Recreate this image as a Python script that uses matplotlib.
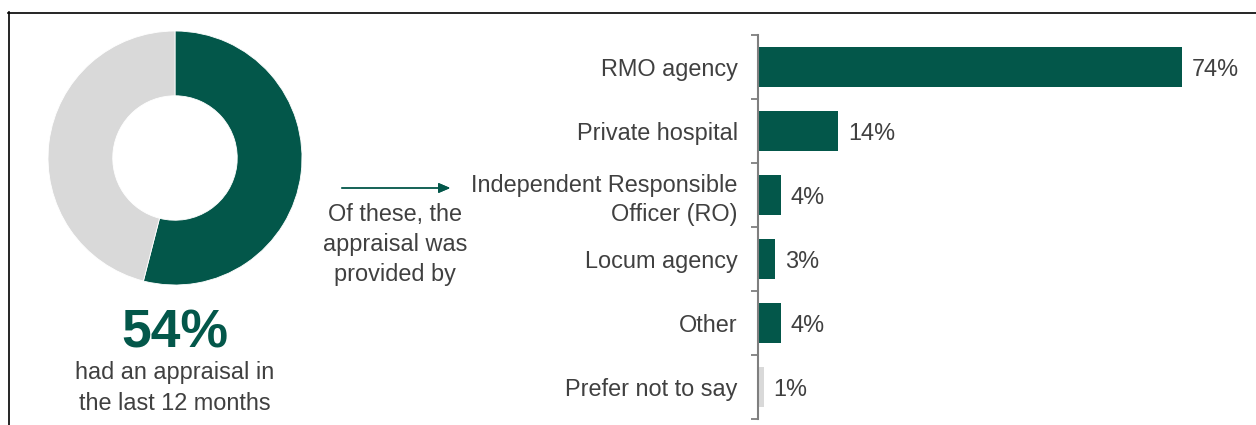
import matplotlib
matplotlib.use("Agg")
import matplotlib.pyplot as plt
from matplotlib.lines import Line2D

plt.rcParams["font.family"] = ["Liberation Sans", "DejaVu Sans"]

# data
categories = ["RMO agency", "Private hospital", "Independent Responsible\nOfficer (RO)",
              "Locum agency", "Other", "Prefer not to say"]
shares = [74, 14, 4, 3, 4, 1]
bar_colors = ["#03574a", "#03574a", "#03574a", "#03574a", "#03574a", "#d9d9d9"]
appraisal = [54, 46]
appraisal_colors = ["#03574a", "#d9d9d9"]

GREEN = "#03574a"
TEXT = "#404040"
FS = 16.9
W, H = 1256, 425


def px_box(left, top, right, bottom):
    # pixel box (top-left origin) -> figure fraction
    return [left / W, 1 - bottom / H, (right - left) / W, (bottom - top) / H]


fig = plt.figure(figsize=(W / 100, H / 100), dpi=100)

# outer frame (left and top edges visible)
fig.add_artist(Line2D([8.5 / W, 8.5 / W], [0, 1 - 12 / H], color="black", lw=1.2,
                      transform=fig.transFigure))
fig.add_artist(Line2D([8 / W, 1], [1 - 12.5 / H, 1 - 12.5 / H], color="black", lw=1.2,
                      transform=fig.transFigure))

# donut
ax_d = fig.add_axes(px_box(45, 28, 305, 288))
ax_d.pie(appraisal, colors=appraisal_colors, startangle=90, counterclock=False,
         radius=1, wedgeprops=dict(width=0.51, edgecolor="white", linewidth=0.6))
ax_d.set_xlim(-130 / 127, 130 / 127)
ax_d.set_ylim(-130 / 127, 130 / 127)
ax_d.set_aspect("equal")
ax_d.axis("off")

fig.text(175 / W, 1 - 334 / H, f"{appraisal[0]}%", ha="center", va="center",
         fontsize=38.5, fontweight="bold", color=GREEN)
fig.text(175 / W, 1 - 373 / H, "had an appraisal in", ha="center", va="center",
         fontsize=FS, color=TEXT)
fig.text(175 / W, 1 - 403 / H, "the last 12 months", ha="center", va="center",
         fontsize=FS, color=TEXT)

# arrow + connector text
fig.add_artist(plt.annotate("", xy=(453 / W, 1 - 188 / H), xytext=(339 / W, 1 - 188 / H),
                            xycoords="figure fraction", textcoords="figure fraction",
                            arrowprops=dict(arrowstyle="-|>,head_length=0.7,head_width=0.3",
                                            color=GREEN, lw=1)))
for y, line in zip([214, 244, 274], ["Of these, the", "appraisal was", "provided by"]):
    fig.text(395 / W, 1 - y / H, line, ha="center", va="center", fontsize=FS, color=TEXT)

# bars
px_per_pct = (1182 - 758) / 74
ax = fig.add_axes(px_box(758, 35, 1250, 419))
pos = list(range(len(categories)))
ax.barh(pos, shares, height=0.61, color=bar_colors)
ax.set_xlim(0, (1250 - 758) / px_per_pct)
ax.set_ylim(len(categories) - 0.5, -0.5)
for p, v in zip(pos, shares):
    ax.text(v + 10 / px_per_pct, p, f"{v}%", va="center_baseline", ha="left",
            fontsize=FS, color=TEXT)

ax.set_yticks(pos)
ax.set_yticklabels(categories, fontsize=FS, color=TEXT, linespacing=1.28)
ax.tick_params(axis="y", which="major", length=0, pad=14.5)
ax.set_yticks([p - 0.5 for p in pos] + [len(pos) - 0.5], minor=True)
ax.tick_params(axis="y", which="minor", length=5, width=1.3, color="#7f7f7f")
ax.set_xticks([])
for side in ["top", "right", "bottom"]:
    ax.spines[side].set_visible(False)
ax.spines["left"].set_color("#7f7f7f")
ax.spines["left"].set_linewidth(1.5)
for lbl in ax.get_yticklabels():
    lbl.set_horizontalalignment("right")
    lbl.set_multialignment("right")

fig.savefig("out.png", dpi=100)
